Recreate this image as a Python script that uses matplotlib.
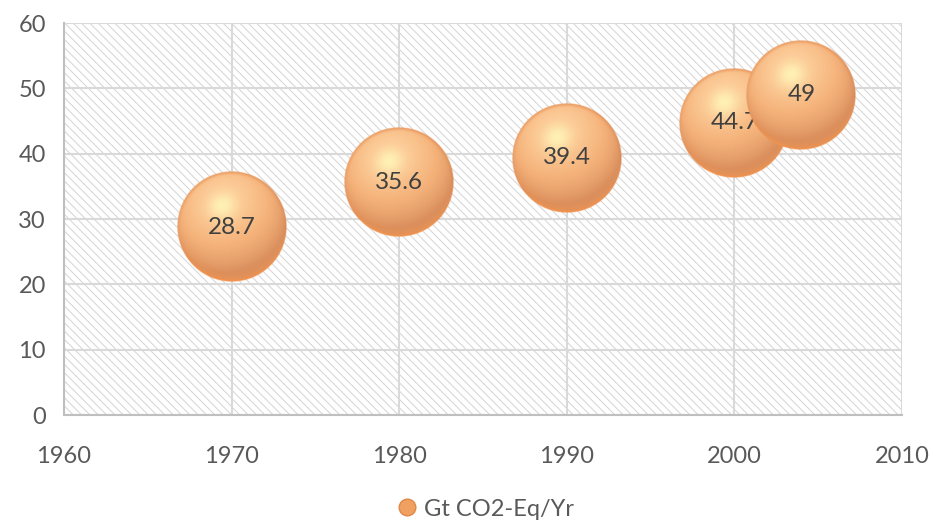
import numpy as np
import matplotlib
matplotlib.use("Agg")
import matplotlib.pyplot as plt
from matplotlib.patches import Rectangle
from matplotlib.lines import Line2D

years = [1970, 1980, 1990, 2000, 2004]
emissions = [28.7, 35.6, 39.4, 44.7, 49]
labels = ["28.7", "35.6", "39.4", "44.7", "49"]
series_name = "Gt CO2-Eq/Yr"
x_ticks = [1960, 1970, 1980, 1990, 2000, 2010]
y_ticks = [0, 10, 20, 30, 40, 50, 60]

plt.rcParams['font.family'] = ['Lato', 'DejaVu Sans']
plt.rcParams['hatch.linewidth'] = 0.7
plt.rcParams['hatch.color'] = '#D4D4D4'

W, H, DPI = 933, 522, 100
fig = plt.figure(figsize=(W / DPI, H / DPI), dpi=DPI)
ax = fig.add_axes([64 / W, 1 - 415 / H, (902 - 64) / W, (415 - 23) / H])
ax.set_xlim(1960, 2010)
ax.set_ylim(0, 60)

# hatched background
ax.add_patch(Rectangle((0, 0), 1, 1, transform=ax.transAxes, facecolor='white',
                       edgecolor='#D4D4D4', hatch='\\\\\\\\', lw=0, zorder=0))
ax.set_xticks(x_ticks)
ax.set_yticks(y_ticks)
ax.grid(True, color='#D9D9D9', lw=1.5, zorder=1)
ax.set_axisbelow(True)
for s in ['top', 'right']:
    ax.spines[s].set_visible(False)
for s in ['left', 'bottom']:
    ax.spines[s].set_color('#BFBFBF')
    ax.spines[s].set_linewidth(1.5)
    ax.spines[s].set_zorder(2)
ax.tick_params(length=0, labelsize=17, labelcolor='#595959')
ax.tick_params(axis='x', pad=22)
ax.tick_params(axis='y', pad=13)


def sphere_image(n=240):
    t = np.linspace(-1, 1, n)
    u, v = np.meshgrid(t, t)  # v upward since origin='lower'
    r2 = u ** 2 + v ** 2
    r = np.sqrt(r2)
    z = np.sqrt(np.clip(1 - r2, 0, 1))
    L = np.array([-0.2, 0.55, 0.8]); L = L / np.linalg.norm(L)
    diff = np.clip(u * L[0] + v * L[1] + z * L[2], 0, 1)
    dark = np.array([0.85, 0.56, 0.37])
    mid = np.array([0.96, 0.70, 0.48])
    light = np.array([0.99, 0.80, 0.60])
    d = diff[..., None]
    col = np.where(d < 0.6, dark + (mid - dark) * (d / 0.6), mid + (light - mid) * ((d - 0.6) / 0.4))
    Hd = np.array([-0.18, 0.38, 0.91]); Hd = Hd / np.linalg.norm(Hd)
    spec = np.clip(u * Hd[0] + v * Hd[1] + z * Hd[2], 0, 1) ** 28
    col = col + (np.array([1.0, 0.96, 0.72]) - col) * (0.9 * spec)[..., None]
    rim = np.clip(-v, 0, 1) * (1 - z) ** 3
    col = col + (np.array([0.96, 0.58, 0.30]) - col) * (np.clip(rim * 1.6, 0, 1))[..., None]
    edge = np.clip((r - 0.93) / 0.07, 0, 1) * np.clip(v + 0.3, 0, 1)
    col = col + (np.array([0.88, 0.52, 0.28]) - col) * (0.6 * edge)[..., None]
    col = np.clip(col, 0, 1)
    alpha = np.clip((1 - r) * n / 2 * 1.0, 0, 1)
    return np.dstack([col, alpha])

img = sphere_image()
fig.canvas.draw()
bb = ax.get_window_extent()
px_x = bb.width / (ax.get_xlim()[1] - ax.get_xlim()[0])
px_y = bb.height / (ax.get_ylim()[1] - ax.get_ylim()[0])
R = 55.0
rx, ry = R / px_x, R / px_y
for i, (x, y, lab) in enumerate(zip(years, emissions, labels)):
    ax.imshow(img, extent=[x - rx, x + rx, y - ry, y + ry], origin='lower',
              aspect='auto', interpolation='bilinear', zorder=3 + 2 * i)
    ax.text(x, y, lab, ha='center', va='center', fontsize=17.5, color='#404040',
            zorder=4 + 2 * i)
ax.set_xlim(1960, 2010)
ax.set_ylim(0, 60)

handle = Line2D([], [], ls='none', marker='o', markersize=12,
                markerfacecolor='#F0A060', markeredgecolor='#E08848')
fig.legend([handle], [series_name], loc='center', bbox_to_anchor=(486 / W, 1 - 509 / H),
           frameon=False, fontsize=17, labelcolor='#595959', handletextpad=0.3,
           handlelength=0.8, borderaxespad=0)

fig.savefig('out.png', dpi=DPI)
